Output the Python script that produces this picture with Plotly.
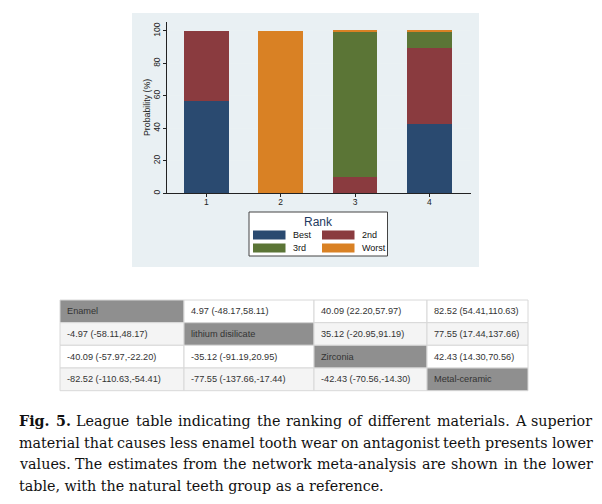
import glob
import plotly.graph_objects as go

OFF = 8  # page body margin of the html page
W, H = 602 - OFF, 504 - OFF

# ---------------- data ----------------
ranks = ["1", "2", "3", "4"]
rank_x = [1, 2, 3, 4]
best = [57.0, 0.0, 0.0, 42.5]
second = [43.0, 0.0, 10.2, 47.2]
third = [0.0, 0.4, 89.3, 9.8]
worst = [0.0, 99.6, 0.5, 0.5]
series_names = ["Best", "2nd", "3rd", "Worst"]
series_colors = ["#2a4a70", "#8a3b3f", "#5b7536", "#d98124"]
y_ticks = [0, 20, 40, 60, 80, 100]

table_rows = [
    ["Enamel", "4.97 (-48.17,58.11)", "40.09 (22.20,57.97)", "82.52 (54.41,110.63)"],
    ["-4.97 (-58.11,48.17)", "lithium disilicate", "35.12 (-20.95,91.19)", "77.55 (17.44,137.66)"],
    ["-40.09 (-57.97,-22.20)", "-35.12 (-91.19,20.95)", "Zirconia", "42.43 (14.30,70.56)"],
    ["-82.52 (-110.63,-54.41)", "-77.55 (-137.66,-17.44)", "-42.43 (-70.56,-14.30)", "Metal-ceramic"],
]

caption_bold = "Fig. 5."
caption_lines = [
    "League table indicating the ranking of different materials. A superior",
    "material that causes less enamel tooth wear on antagonist teeth presents lower",
    "values. The estimates from the network meta-analysis are shown in the lower",
    "table, with the natural teeth group as a reference.",
]


def px(x):
    return (x - OFF) / W


def py(y):
    return 1 - (y - OFF) / H


fig = go.Figure()
for name, vals, col in zip(series_names, [best, second, third, worst], series_colors):
    fig.add_trace(go.Bar(x=rank_x, y=vals, name=name, marker=dict(color=col, line=dict(width=0)),
                         width=0.6, showlegend=False))

shapes = []
annotations = []
# outer graph region
shapes.append(dict(type="rect", xref="paper", yref="paper", x0=px(132), x1=px(479), y0=py(267), y1=py(13),
                   fillcolor="#e9f0f3", line=dict(width=0), layer="below"))
# legend box
shapes.append(dict(type="rect", xref="paper", yref="paper", x0=px(249), x1=px(387.5), y0=py(256), y1=py(212),
                   fillcolor="white", line=dict(color="#444444", width=1), layer="above"))
sw = [(253, 230.5), (322, 230.5), (253, 243.5), (322, 243.5)]
txt = [(291, 235), (360, 235), (291, 248), (360, 248)]
for (sx, sy), (tx, ty), name, col in zip(sw, txt, series_names, series_colors):
    shapes.append(dict(type="rect", xref="paper", yref="paper", x0=px(sx), x1=px(sx + 32.5), y0=py(sy + 9),
                       y1=py(sy), fillcolor=col, line=dict(width=0), layer="above"))
    annotations.append(dict(x=px(tx), y=py(ty), xref="paper", yref="paper", text=name, showarrow=False,
                            xanchor="left", yanchor="middle",
                            font=dict(family="Liberation Sans", size=9, color="#111111")))
annotations.append(dict(x=px(318), y=py(222), xref="paper", yref="paper", text="Rank", showarrow=False,
                        xanchor="center", yanchor="middle",
                        font=dict(family="Liberation Sans", size=12, color="#1e3a60")))
# y axis title
annotations.append(dict(x=px(147), y=py(108), xref="paper", yref="paper", text="Probability (%)",
                        showarrow=False, textangle=-90, xanchor="center", yanchor="middle",
                        font=dict(family="Liberation Sans", size=8.8, color="#222222")))

# ---------------- table (drawn as cells) ----------------
GRAY = "#8f8f8f"
LIGHT = "#f4f4f4"
col_edges = [60, 184, 314, 427, 528]
row_edges = [300, 322.7, 345.3, 368, 390.7]
for r, row in enumerate(table_rows):
    for c, val in enumerate(row):
        if r == c:
            fill = GRAY
        else:
            fill = LIGHT if r % 2 == 1 else "white"
        shapes.append(dict(type="rect", xref="paper", yref="paper",
                           x0=px(col_edges[c]), x1=px(col_edges[c + 1]),
                           y0=py(row_edges[r + 1]), y1=py(row_edges[r]),
                           fillcolor=fill, line=dict(color="#d8d8d8", width=1), layer="above"))
        annotations.append(dict(x=px(col_edges[c] + 5), y=py((row_edges[r] + row_edges[r + 1]) / 2),
                                xref="paper", yref="paper", text=val, showarrow=False,
                                xanchor="left", yanchor="middle",
                                font=dict(family="Liberation Sans", size=9.2, color="#333333")))

# ---------------- caption (justified) ----------------
CAP_SIZE = 14.3
CAP_FONT = "DejaVu Serif"
cap_y = [421, 442.5, 464, 485.5]
LEFT, RIGHT = 18, 591.5


def _font(bold):
    try:
        from PIL import ImageFont
        name = "DejaVuSerif-Bold.ttf" if bold else "DejaVuSerif.ttf"
        paths = glob.glob("/usr/share/fonts/**/" + name, recursive=True)
        return ImageFont.truetype(paths[0], 200)
    except Exception:
        return None


f_reg, f_bold = _font(False), _font(True)


def measure(text, bold=False):
    f = f_bold if bold else f_reg
    return f.getlength(text) * CAP_SIZE / 200


for i, (line, yy) in enumerate(zip(caption_lines, cap_y)):
    words = [(w, False) for w in line.split(" ")]
    if i == 0:
        words = [(w, True) for w in caption_bold.split(" ")] + words
    justify = i < len(caption_lines) - 1
    if f_reg is not None and f_bold is not None and justify:
        widths = [measure(w, b) for w, b in words]
        gap = (RIGHT - LEFT - sum(widths)) / (len(words) - 1)
        x = LEFT
        for (w, b), wd in zip(words, widths):
            annotations.append(dict(x=px(x - 1), y=py(yy), xref="paper", yref="paper",
                                    text=("<b>%s</b>" % w) if b else w, showarrow=False,
                                    xanchor="left", yanchor="middle",
                                    font=dict(family=CAP_FONT, size=CAP_SIZE, color="#111111")))
            x += wd + gap
    else:
        text = line
        if i == 0:
            text = "<b>%s</b> %s" % (caption_bold, line)
        annotations.append(dict(x=px(LEFT - 1), y=py(yy), xref="paper", yref="paper", text=text,
                                showarrow=False, xanchor="left", yanchor="middle",
                                font=dict(family=CAP_FONT, size=CAP_SIZE, color="#111111")))

fig.update_layout(
    width=W, height=H,
    margin=dict(l=0, r=0, t=0, b=0),
    paper_bgcolor="white", plot_bgcolor="white",
    barmode="stack",
    shapes=shapes, annotations=annotations,
    xaxis=dict(domain=[px(167), px(471)], range=[0.47, 4.56], tickmode="array", tickvals=rank_x, ticktext=ranks,
               showgrid=False, zeroline=False, showline=True, linecolor="#222222", linewidth=1,
               ticks="outside", ticklen=3, tickcolor="#222222", automargin=False, ticklabelstandoff=-3,
               tickfont=dict(family="Liberation Sans", size=8.5, color="#222222")),
    yaxis=dict(domain=[py(193.3), py(22)], range=[0, 105.5], tickmode="array", tickvals=y_ticks,
               showgrid=True, gridcolor="#eaf1f3", gridwidth=1, zeroline=False,
               showline=True, linecolor="#222222", linewidth=1, ticks="outside", ticklen=3,
               tickcolor="#222222", tickangle=-90, automargin=False,
               tickfont=dict(family="Liberation Sans", size=8.5, color="#222222")),
)

fig.write_html("out.html")
